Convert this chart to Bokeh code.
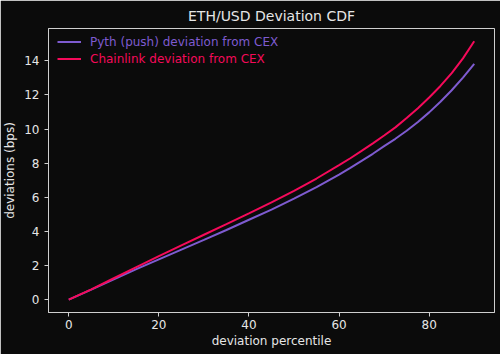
from bokeh.plotting import figure
from bokeh.models import Range1d, Legend, LegendItem, FixedTicker, ColumnDataSource
from bokeh.embed import file_html
from bokeh.resources import INLINE

# Data
percentiles = [0, 5, 10, 15, 20, 25, 30, 35, 40, 45, 50, 55, 60, 62.5, 65, 67.5, 70, 72.5,
               75, 77.5, 80, 82.5, 85, 87.5, 90]
pyth_dev = [0.0, 0.58, 1.18, 1.78, 2.36, 2.93, 3.5, 4.08, 4.68, 5.28, 5.92, 6.6, 7.33, 7.72,
            8.13, 8.55, 9.0, 9.43, 9.9, 10.42, 10.98, 11.6, 12.28, 13.02, 13.83]
chainlink_dev = [0.0, 0.6, 1.25, 1.9, 2.55, 3.18, 3.8, 4.42, 5.05, 5.7, 6.38, 7.1, 7.88, 8.29,
                 8.72, 9.16, 9.62, 10.1, 10.65, 11.22, 11.85, 12.53, 13.28, 14.15, 15.15]
x_ticks = [0, 20, 40, 60, 80]
y_ticks = [0, 2, 4, 6, 8, 10, 12, 14]

BG = "#0b0b0b"
FG = "#e6e6e6"
PYTH = "#7e5bd0"
CHAIN = "#f50a5a"
FONT = "DejaVu Sans"

p = figure(width=500, height=354, output_backend="svg", toolbar_location=None,
           x_range=Range1d(-4.5, 94.5), y_range=Range1d(-0.76, 15.9),
           min_border_left=47, min_border_right=6, min_border_top=26, min_border_bottom=42)
p.background_fill_color = BG
p.border_fill_color = BG
p.outline_line_color = "#cfcfcf"
p.outline_line_width = 1
p.grid.visible = False

p.title.text = "ETH/USD Deviation CDF"
p.title.align = "center"
p.title.text_color = FG
p.title.text_font = FONT
p.title.text_font_size = "14px"
p.title.text_font_style = "normal"

for ax in (p.xaxis[0], p.yaxis[0]):
    ax.axis_line_color = "#cfcfcf"
    ax.major_tick_line_color = "#cfcfcf"
    ax.major_tick_out = 4
    ax.major_tick_in = 0
    ax.minor_tick_line_color = None
    ax.major_label_text_color = FG
    ax.major_label_text_font = FONT
    ax.major_label_text_font_size = "12px"
    ax.axis_label_text_color = FG
    ax.axis_label_text_font = FONT
    ax.axis_label_text_font_size = "12px"
    ax.axis_label_text_font_style = "normal"

p.xaxis[0].ticker = FixedTicker(ticks=x_ticks)
p.yaxis[0].ticker = FixedTicker(ticks=y_ticks)
p.xaxis[0].axis_label = "deviation percentile"
p.yaxis[0].axis_label = "deviations (bps)"
p.xaxis[0].major_label_standoff = 3
p.xaxis[0].axis_label_standoff = 2
p.yaxis[0].major_label_standoff = 5
p.yaxis[0].axis_label_standoff = 4

src = ColumnDataSource(dict(x=percentiles, pyth=pyth_dev, chain=chainlink_dev))
r_pyth = p.line("x", "pyth", source=src, line_color=PYTH, line_width=2)
r_chain = p.line("x", "chain", source=src, line_color=CHAIN, line_width=2)

def make_legend(label, renderer, color, y):
    lg = Legend(items=[LegendItem(label=label, renderers=[renderer])],
                location=(9, y), orientation="vertical",
                background_fill_alpha=0, border_line_color=None,
                label_text_color=color, label_text_font=FONT, label_text_font_size="12px",
                glyph_width=24, glyph_height=17, label_height=17, label_standoff=9,
                padding=0, margin=0, spacing=0)
    p.add_layout(lg, "center")

make_legend("Pyth (push) deviation from CEX", r_pyth, PYTH, 262)
make_legend("Chainlink deviation from CEX", r_chain, CHAIN, 245)

open("out.html", "w").write(file_html(p, INLINE))
